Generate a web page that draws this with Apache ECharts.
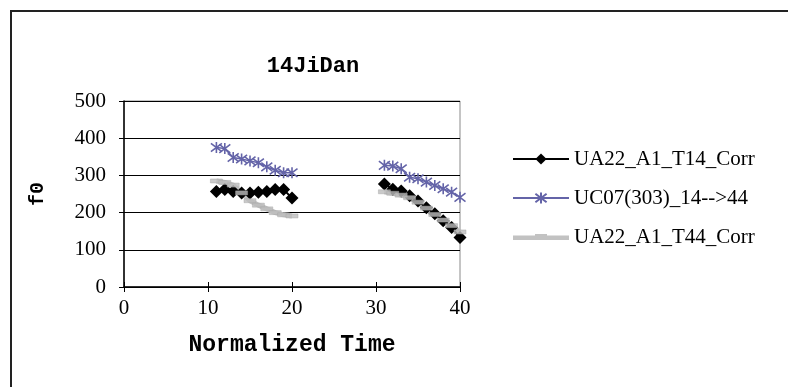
<!DOCTYPE html>
<html>
<head>
<meta charset="utf-8">
<script src="https://cdn.jsdelivr.net/npm/echarts@6/dist/echarts.min.js"></script>
<style>
  html, body { margin: 0; padding: 0; background: #fff; }
  #chart { width: 788px; height: 387px; }
</style>
</head>
<body>
<div id="chart"></div>
<script>
// Normalized time steps of the two syllables
const timeA = [11, 12, 13, 14, 15, 16, 17, 18, 19, 20];
const timeB = [31, 32, 33, 34, 35, 36, 37, 38, 39, 40];

// f0 values (Hz) per series, first and second syllable
const t14A = [257, 262, 257, 253, 253, 255, 257, 262, 262, 239];
const t14B = [277, 263, 258, 245, 231, 213, 197, 178, 160, 133];
const uc07A = [375, 372, 348, 344, 339, 334, 323, 314, 307, 307];
const uc07B = [327, 325, 318, 295, 291, 282, 273, 264, 255, 241];
const t44A = [285, 281, 274, 253, 232, 220, 210, 200, 194, 191];
const t44B = [256, 252, 247, 240, 228, 212, 195, 180, 165, 148];

const seriesNames = ['UA22_A1_T14_Corr', 'UC07(303)_14-->44', 'UA22_A1_T44_Corr'];
const xTicks = [0, 10, 20, 30, 40];
const yTicks = [0, 100, 200, 300, 400, 500];

// Join the two syllables with a gap so the line breaks between them
function pairs(a, b) {
  const out = timeA.map((t, i) => [t, a[i]]);
  out.push([25, '-']);
  timeB.forEach((t, i) => out.push([t, b[i]]));
  return out;
}

const serif = 'Liberation Serif';
const mono = 'Liberation Mono';
const blue = '#6464a8';
const gray = '#c2c2c2';
const asterisk = 'path://M5 0L5 10M0.8 1.2L9.2 8.8M0.8 8.8L9.2 1.2';
// thick gray line with a small dash marker on it, for the legend
const grayLegendIcon = 'path://M0 1.5H22V0H34V1.5H56V6H0Z';

const chart = echarts.init(document.getElementById('chart'), null, { renderer: 'canvas' });
chart.setOption({
  animation: false,
  backgroundColor: '#fff',
  title: {
    text: '14JiDan',
    left: 308,
    top: 50,
    textAlign: 'center',
    textStyle: { fontFamily: mono, fontWeight: 'bold', fontSize: 22, color: '#000' }
  },
  graphic: [{
    type: 'rect',
    shape: { x: 11, y: 11, width: 800, height: 400 },
    style: { fill: 'none', stroke: '#222', lineWidth: 2 },
    silent: true
  }],
  grid: {
    left: 124, right: 328, top: 101, bottom: 100,
    show: true, borderColor: '#8a8a8a', borderWidth: 1
  },
  legend: {
    orient: 'vertical',
    left: 507,
    top: 142,
    itemWidth: 56,
    itemHeight: 14,
    itemGap: 15,
    data: [
      { name: seriesNames[0] },
      { name: seriesNames[1] },
      { name: seriesNames[2], icon: grayLegendIcon, itemStyle: { color: gray } }
    ],
    textStyle: { fontFamily: serif, fontSize: 21, color: '#000', lineHeight: 24 }
  },
  xAxis: [{
    type: 'value',
    min: xTicks[0], max: xTicks[xTicks.length - 1], interval: 10,
    name: 'Normalized Time',
    nameLocation: 'middle',
    nameGap: 47,
    nameTextStyle: { fontFamily: mono, fontWeight: 'bold', fontSize: 23, color: '#000' },
    axisLine: { show: true, onZero: false, lineStyle: { color: '#000', width: 1.5 } },
    axisTick: { show: true, length: 5, lineStyle: { color: '#000' } },
    axisLabel: { fontFamily: serif, fontSize: 21, color: '#000', margin: 11 },
    splitLine: { show: false }
  }, {
    // inner half of the crossing tick marks
    type: 'value',
    position: 'bottom',
    min: xTicks[0], max: xTicks[xTicks.length - 1], interval: 10,
    axisLine: { show: false },
    axisTick: { show: true, inside: true, length: 5, lineStyle: { color: '#000' } },
    axisLabel: { show: false },
    splitLine: { show: false }
  }],
  yAxis: {
    type: 'value',
    min: yTicks[0], max: yTicks[yTicks.length - 1], interval: 100,
    name: 'f0',
    nameLocation: 'middle',
    nameGap: 76,
    nameRotate: 90,
    nameTextStyle: { fontFamily: mono, fontWeight: 'bold', fontSize: 20, color: '#000' },
    axisLine: { show: true, lineStyle: { color: '#000', width: 1.5 } },
    axisTick: { show: true, length: 5, lineStyle: { color: '#000' } },
    axisLabel: { fontFamily: serif, fontSize: 21, color: '#000', margin: 18 },
    splitLine: { show: true, lineStyle: { color: '#000', width: 1 } }
  },
  series: [{
    name: seriesNames[0],
    type: 'line',
    data: pairs(t14A, t14B),
    symbol: 'diamond',
    symbolSize: 13,
    itemStyle: { color: '#000' },
    lineStyle: { color: '#000', width: 2 },
    z: 3
  }, {
    name: seriesNames[1],
    type: 'line',
    data: pairs(uc07A, uc07B),
    symbol: asterisk,
    symbolSize: 11,
    itemStyle: { color: blue, borderColor: blue, borderWidth: 1.6 },
    lineStyle: { color: blue, width: 1.5 },
    z: 3
  }, {
    name: seriesNames[2],
    type: 'line',
    data: pairs(t44A, t44B),
    symbol: 'none',
    itemStyle: { color: gray },
    lineStyle: { color: gray, width: 5 },
    z: 2
  }, {
    // dash markers of the T44 series, drawn above the other markers
    name: 'T44 markers',
    type: 'scatter',
    data: pairs(t44A, t44B),
    symbol: 'rect',
    symbolSize: [12, 4],
    itemStyle: { color: '#bdbdbd', borderColor: '#a8a8a8', borderWidth: 0.5 },
    z: 4
  }]
});
</script>
</body>
</html>
